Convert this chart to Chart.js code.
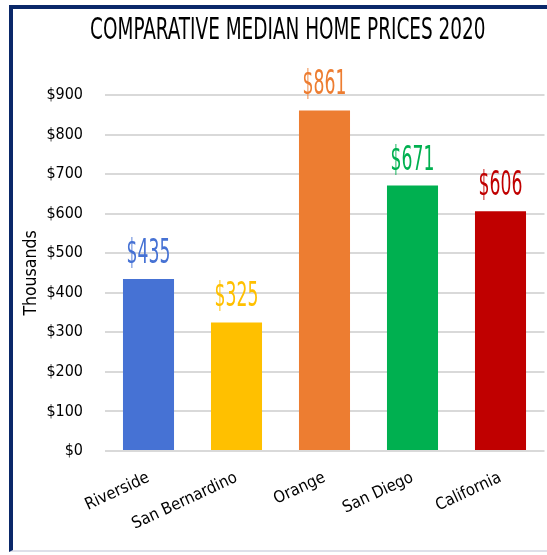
<!DOCTYPE html>
<html>
<head>
<meta charset="utf-8">
<script src="https://cdn.jsdelivr.net/npm/chart.js@4"></script>
<style>
  html, body { margin: 0; padding: 0; background: #ffffff; width: 547px; height: 555px; overflow: hidden; }
  #frame { position: absolute; left: 9px; top: 5px; width: 640px; height: 547px;
           border-left: 4px solid #0a2869; border-top: 4px solid #0a2869; border-bottom: 2px solid #dedfe9; box-sizing: border-box; }
  #wrap { position: absolute; left: 0; top: 0; width: 547px; height: 555px; }
</style>
</head>
<body>
<div id="frame"></div>
<div id="wrap"><canvas id="c" width="547" height="555"></canvas></div>
<script>
const categories = ["Riverside", "San Bernardino", "Orange", "San Diego", "California"];
const prices = [435, 325, 861, 671, 606];
const barColors = ["#4672D4", "#FFC000", "#ED7D31", "#00B050", "#C00000"];
const yTicks = [0, 100, 200, 300, 400, 500, 600, 700, 800, 900];
const titleText = "COMPARATIVE MEDIAN HOME PRICES 2020";
const yTitle = "Thousands";

const FONT = "'Liberation Sans Narrow', 'DejaVu Sans Condensed', 'Roboto Condensed', 'Liberation Sans', sans-serif";
const LABEL_SQUEEZE = 0.58;
const TITLE_SQUEEZE = 0.77;

const valueLabels = {
  id: 'valueLabels',
  afterDatasetsDraw(chart) {
    const ctx = chart.ctx;
    const meta = chart.getDatasetMeta(0);
    meta.data.forEach((bar, i) => {
      ctx.save();
      ctx.font = "33px " + FONT;
      ctx.textAlign = 'center';
      ctx.textBaseline = 'alphabetic';
      ctx.fillStyle = barColors[i];
      ctx.translate(bar.x, bar.y - 16);
      ctx.scale(LABEL_SQUEEZE, 1);
      ctx.fillText('$' + prices[i], 0, 0);
      ctx.restore();
    });
  }
};

const chart = new Chart(document.getElementById('c'), {
  type: 'bar',
  data: {
    labels: categories,
    datasets: [{
      data: prices,
      backgroundColor: barColors,
      borderWidth: 0,
      categoryPercentage: 1,
      barPercentage: 0.58
    }]
  },
  options: {
    responsive: false,
    animation: false,
    events: [],
    layout: { padding: { left: 31, right: 2.5, top: 9, bottom: 0 } },
    plugins: {
      legend: { display: false },
      tooltip: { enabled: false },
      title: {
        display: true,
        text: titleText,
        color: '#000000',
        font: { family: FONT, size: 30, weight: 'normal' },
        padding: { top: 4, bottom: 46 }
      }
    },
    scales: {
      x: {
        grid: { display: false, drawTicks: false },
        border: { display: false },
        ticks: {
          autoSkip: false,
          minRotation: 25,
          maxRotation: 25,
          padding: 17,
          color: '#000000',
          font: { family: FONT, size: 16.5 }
        },
        afterFit(scale) { scale.height = 104; }
      },
      y: {
        min: 0,
        max: 900,
        afterBuildTicks(scale) { scale.ticks = yTicks.map(v => ({ value: v })); },
        grid: { color: '#d9d9d9', lineWidth: 2, drawTicks: false },
        border: { display: false },
        ticks: {
          padding: 21.5,
          color: '#000000',
          font: { family: FONT, size: 16 },
          callback: v => '$' + v
        },
        title: {
          display: true,
          text: yTitle,
          color: '#000000',
          font: { family: FONT, size: 17.5 },
          padding: { top: -10.5, bottom: 0 }
        },
        afterFit(scale) { scale.width = 73.5; }
      }
    }
  },
  plugins: [valueLabels]
});

// squeeze the title horizontally around its own centre to mimic the condensed face
const tb = chart.titleBlock;
const origDraw = tb.draw.bind(tb);
tb.draw = function () {
  const ctx = chart.ctx;
  const cx = (tb.left + tb.right) / 2;
  ctx.save();
  ctx.translate(cx, 0);
  ctx.scale(TITLE_SQUEEZE, 1);
  ctx.translate(-cx, 0);
  origDraw();
  ctx.restore();
};
chart.draw();
</script>
</body>
</html>
